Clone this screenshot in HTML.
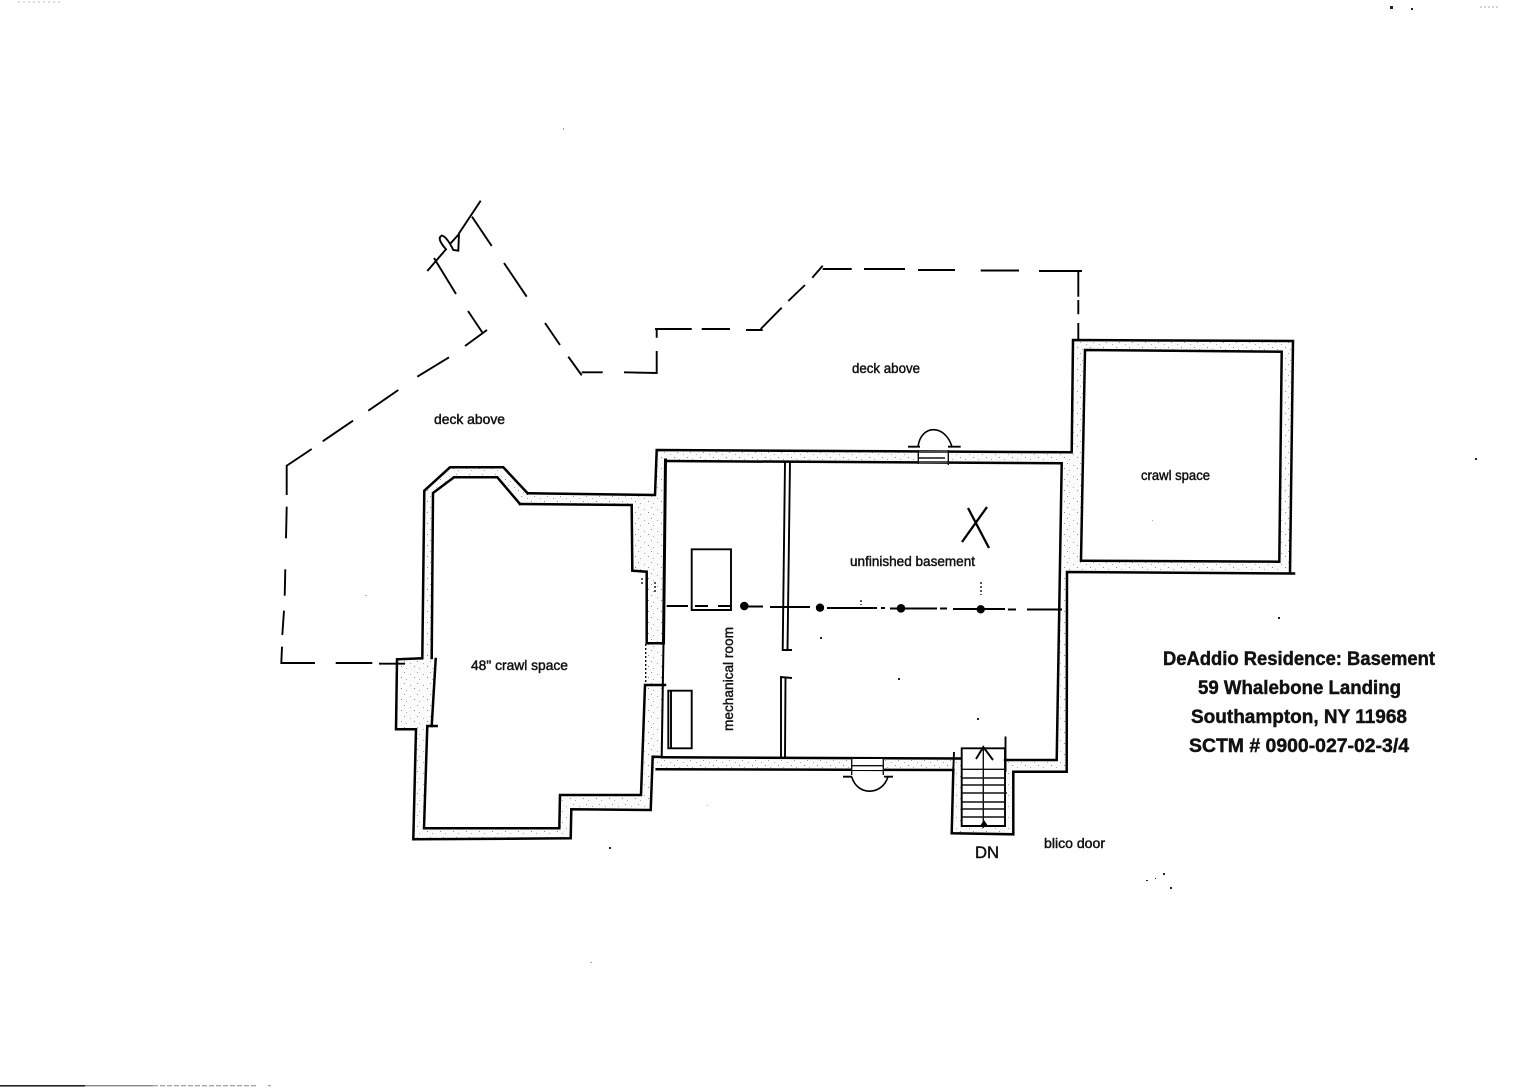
<!DOCTYPE html>
<html lang="en">
<head>
<meta charset="utf-8">
<title>DeAddio Residence: Basement</title>
<style>
html,body{margin:0;padding:0;background:#fff;width:1524px;height:1088px;overflow:hidden}
svg{display:block}
text{font-family:"Liberation Sans",sans-serif;fill:#111;stroke:#111;stroke-width:.45}
.w{fill:none;stroke:#000;stroke-width:2.5;stroke-linejoin:miter;stroke-linecap:square}
.t{fill:none;stroke:#000;stroke-width:1.9;stroke-linecap:butt}
.s{fill:none;stroke:#111;stroke-width:1.4}
</style>
</head>
<body>
<svg width="1524" height="1088" viewBox="0 0 1524 1088" xmlns="http://www.w3.org/2000/svg">
<defs>
<pattern id="sp" width="13" height="11" patternUnits="userSpaceOnUse">
<rect width="13" height="11" fill="#fbfbfb"/>
<rect x="1" y="1" width="1" height="1" fill="#999"/>
<rect x="7" y="3" width="1" height="1" fill="#aaa"/>
<rect x="11" y="6" width="1" height="1" fill="#888"/>
<rect x="3" y="8" width="1" height="1" fill="#aaa"/>
</pattern>
</defs>
<rect width="1524" height="1088" fill="#fff"/>

<!-- wall fill -->
<path fill="url(#sp)" fill-rule="evenodd" d="M527.7,493.3 L655,495 L656.7,450 L1071.7,452.3 L1073,340 L1293,341 L1290,573 L1067,572 L1066.7,771.7 L1013.3,771.7 L1013.3,834.3 L951.7,833.3 L953.3,770 L652,769 L650.7,810 L571.3,809.3 L570.7,838.3 L413.3,839.3 L416,729.3 L396,729.3 L396.7,659.3 L422.3,658.3 L424.3,490.7 L450,467.3 L503.3,467.3 Z
M520,504 L631.7,505 L632.3,570.7 L646.7,571.7 L646.7,643.3 L645,685 L641,795 L560,795 L559.3,828.3 L424,828.3 L427.3,726 L431.7,726 L435.7,659 L431.7,658 L433,493 L454,477.3 L497.3,477.3 Z
M665.7,461 L1061.7,463.3 L1056.7,760 L1005,760 L1005,826 L961.7,826 L961.7,758.5 L661.7,757.3 Z
M1085,350 L1281.7,351.7 L1279.3,561.7 L1080.7,560.7 Z"/>

<!-- outer walls -->
<path class="w" d="M527.7,493.3 L655,495 L656.7,450 L1071.7,452.3 L1073,340 L1293,341 L1290,573.3"/>
<path class="w" d="M1294,573.5 L1067,572 L1066.7,771.7 L1013.3,771.7 L1013.3,834.3 L951.7,833.3 L953.3,770"/>
<path class="w" d="M953.3,770 L656.7,769.3"/>
<path class="w" d="M662,757 L652.7,756.7 L650.7,810 L571.3,809.3 L570.7,838.3 L413.3,839.3 L416,729.3 L396,729.3 L397,659.3 L422.3,658.3 L424.3,490.7 L450,467.3 L503.3,467.3 L527.7,493.3"/>

<!-- inner walls: crawl -->
<path class="w" d="M520,504 L631.7,505 L632.3,570.7 L646.7,571.7 L646.7,643.3 L663.3,643.3"/>
<path class="w" d="M665,685 L645,685 L641,795 L560,795 L559.3,828.3 L424,828.3 L427.3,726 L436.7,726"/>
<path class="w" d="M435.7,659 L431.7,726"/>
<path class="w" d="M431.7,658 L433,493 L454,477.3 L497.3,477.3 L520,504"/>
<path class="s" stroke-dasharray="2 2" d="M645.7,644 V685"/>

<!-- basement room -->
<path class="w" style="stroke-width:3" d="M665.5,460 L663.5,643"/>
<path class="w" style="stroke-width:2" d="M663.5,643 L661.7,757"/>
<path class="w" d="M662,757.3 L961,758.5"/>
<path class="w" d="M665.7,461 L1061.7,463.3 L1056.7,760 L1005,760"/>

<!-- crawl space room -->
<path class="w" d="M1081,560.7 L1085,350 L1281.7,351.7 L1279.3,561.7 L1081,560.7"/>

<!-- partition -->
<path class="t" d="M785,462 L782.7,650 L792,650"/>
<path class="t" d="M790,462 L787.5,650"/>
<path class="t" d="M792,678 L781,677 L781,758"/>
<path class="t" d="M785.5,677 L785,758"/>

<!-- equipment -->
<path class="t" d="M691.7,549.3 H731 V610 H691.7 Z"/>
<path class="t" d="M668.3,690.7 H691.7 V748.3 H668.3 Z M671,691 V748"/>

<!-- centre line -->
<path class="t" d="M666.7,606 H688 M695,606 H708 M718,606 H730 M746.7,606.5 H763 M770,607 H810 M827,608 H877 M881,608 H885 M890,608.5 H937 M940,608.5 H947 M953,609 H1005 M1008,609.5 H1016 M1027,609.5 H1062"/>
<circle cx="744.3" cy="606" r="4.3" fill="#000"/>
<circle cx="820" cy="607.7" r="4.2" fill="#000"/>
<circle cx="901" cy="608.3" r="4.3" fill="#000"/>
<circle cx="980.7" cy="609.3" r="4.2" fill="#000"/>
<path class="s" d="M861,600 V605 M981,582 V595 M655,582 V592 M642,578 V585" stroke-dasharray="2 2"/>

<!-- top door -->
<rect x="918" y="451" width="30" height="12" fill="#fff"/>
<path class="s" d="M918.3,450 V464 M948.3,450 V465 M918,458 H945 M918,452 H948 M918,462 H948"/>
<path class="t" d="M908,446.7 H920 M948,446.7 H960.7"/>
<path class="t" style="stroke-width:1.6" d="M918,446.7 C921,424 945,424 952,446.7"/>

<!-- bottom door -->
<rect x="852" y="759" width="31" height="11" fill="#fff"/>
<path class="s" d="M851.7,758 V775 M883.3,758 V775 M852,765.7 H883"/>
<path class="t" d="M843,776.7 H852 M884,776.7 H893"/>
<path class="t" style="stroke-width:1.6" d="M851.7,776.7 C857,796 882,796 888,776.7"/>

<!-- stair -->
<path class="t" d="M961.7,748.3 H1005 V826 H961.7 Z"/>
<path class="t" d="M1005.5,736.5 V772 M954,752 L953.3,770"/>
<path class="s" d="M962,769.3 H1005 M962,778 H1005 M962,785 H1005 M962,793 H1007 M962,802 H1005 M962,809 H1005 M962,817 H1005"/>
<path class="s" d="M983.3,746 V828"/>
<path class="t" d="M976,759 L983.3,747 L993,760"/>
<path d="M980,826 L984,820 L988,826 Z" fill="#000"/>

<!-- deck dashed -->
<path class="t" d="M427.3,271 L446,249.3 Q436,238 442,235.5 Q447,237 453.3,250 L458.3,250.7 L459,233.3 L480.7,200.7 M450,244 L459,234"/>
<path class="t" d="M472,216.7 L491.7,246 M504,263 L526.7,296.7 M545,323 L560,345 M568.3,356.7 L581.7,375.3"/>
<path class="t" d="M581.7,372.3 H602.7 M624,372.3 L656.7,373 V351 M656.7,337.7 V329 M655,329 H691.7 M701.7,329 H730 M746,330 H762.7"/>
<path class="t" d="M760.7,329 L781.7,307.7 M788.3,301 L805,285 M812.3,277.7 L822.7,265.7"/>
<path class="t" d="M822.7,269 H851.7 M864,269 H905 M918,270 H955 M980.7,270.5 H1019 M1039,271 H1082"/>
<path class="t" d="M1078.3,271.7 V296.7 M1078.3,300 V314.3 M1078.3,323 V339"/>
<path class="t" d="M434,258 L456,294 M468,311 L482.7,333 M487,330 L465,346 M449,357.3 L417.3,376.7 M398.3,390 L368.3,410.7 M353,420.7 L322.7,441.3 M311.7,449 L286.7,465.7 V495"/>
<path class="t" d="M286.7,506.7 L286,538.3 M285.3,569.3 L284.7,595.7 M284,610.7 L282.3,635 M282,646.7 L281.3,663 H315 M335.7,663 H372.3 M379,663.7 H405"/>

<!-- X -->
<path class="t" style="stroke-width:2.3" d="M968,508 L989,548 M987,507 L962,542"/>

<!-- labels -->
<text x="434" y="424" font-size="14" textLength="71" lengthAdjust="spacingAndGlyphs">deck above</text>
<text x="852" y="373" font-size="14" textLength="68" lengthAdjust="spacingAndGlyphs">deck above</text>
<text x="1141" y="480" font-size="14" textLength="69" lengthAdjust="spacingAndGlyphs">crawl space</text>
<text x="471" y="670" font-size="14" textLength="97" lengthAdjust="spacingAndGlyphs">48" crawl space</text>
<text x="850" y="566" font-size="14" textLength="125" lengthAdjust="spacingAndGlyphs">unfinished basement</text>
<text transform="translate(733,731) rotate(-90)" font-size="14" textLength="104" lengthAdjust="spacingAndGlyphs">mechanical room</text>
<text x="1044" y="848" font-size="14" textLength="61" lengthAdjust="spacingAndGlyphs">blico door</text>
<text x="975" y="858" font-size="17" textLength="24" lengthAdjust="spacingAndGlyphs">DN</text>

<g font-size="19" font-weight="bold" style="stroke-width:0">
<text x="1163" y="665" textLength="272" lengthAdjust="spacingAndGlyphs">DeAddio Residence: Basement</text>
<text x="1198" y="694" textLength="203" lengthAdjust="spacingAndGlyphs">59 Whalebone Landing</text>
<text x="1191" y="723" textLength="216" lengthAdjust="spacingAndGlyphs">Southampton, NY 11968</text>
<text x="1189" y="752" textLength="220" lengthAdjust="spacingAndGlyphs">SCTM # 0900-027-02-3/4</text>
</g>

<!-- specks -->
<g fill="#222">
<rect x="1390" y="6" width="3" height="3"/><rect x="1411" y="8" width="2" height="2"/>
<rect x="1475" y="458" width="2" height="2"/><rect x="1278" y="617" width="2" height="2"/>
<rect x="609" y="847" width="2" height="2"/><rect x="898" y="678" width="2" height="2"/>
<rect x="977" y="718" width="2" height="2"/><rect x="820" y="637" width="2" height="2"/>
<rect x="1170" y="887" width="2" height="2"/><rect x="1163" y="873" width="2" height="2"/>
<rect x="1146" y="880" width="2" height="1"/><rect x="1155" y="878" width="1" height="1"/>
</g>
<g fill="#aaa">
<rect x="563" y="128" width="1" height="2"/><rect x="590" y="962" width="2" height="1"/>
<rect x="365" y="595" width="2" height="1"/><rect x="707" y="805" width="1" height="1"/>
<rect x="1152" y="520" width="1" height="1"/>
</g>
<path d="M18,2 H60" stroke="#bbb" stroke-width="1" stroke-dasharray="2 3"/>
<path d="M1480,7 H1498" stroke="#aaa" stroke-width="1" stroke-dasharray="2 2"/>
<rect x="0" y="1085" width="85" height="1.6" fill="#222"/>
<rect x="85" y="1085.3" width="68" height="1" fill="#555"/>
<path d="M153,1085.8 H256 M268,1085.8 H271" stroke="#888" stroke-width="1" stroke-dasharray="5 2"/>
</svg>
</body>
</html>
